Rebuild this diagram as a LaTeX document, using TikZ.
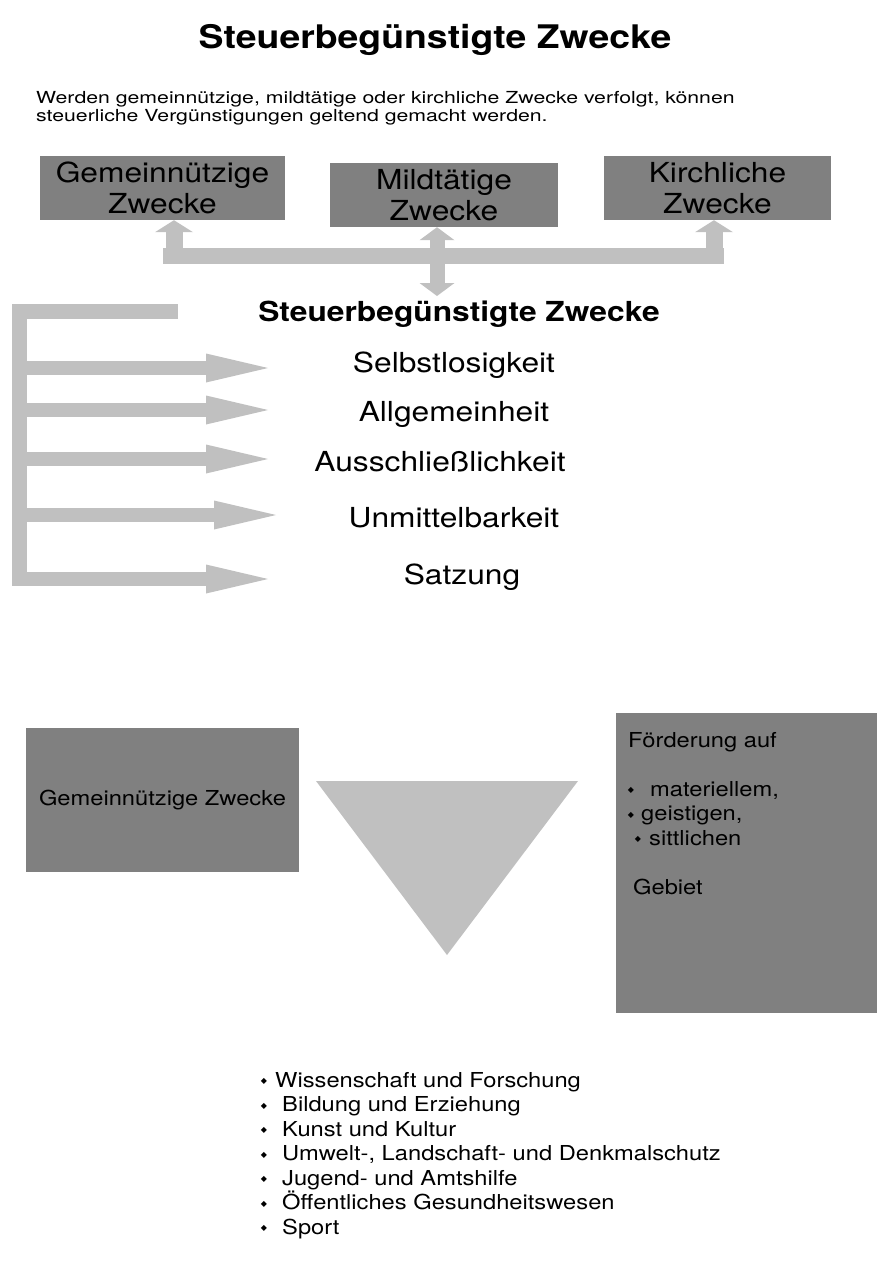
\documentclass[tikz,border=0pt]{standalone}
\usepackage{fontspec}
\setmainfont[FakeStretch=1.15]{TeX Gyre Heros}
\newfontfamily\introfont[FakeStretch=1.28]{TeX Gyre Heros}
\newfontfamily\symfont{DejaVu Sans}
\usetikzlibrary{arrows.meta,positioning}
\definecolor{boxgray}{HTML}{808080}
\definecolor{arrowgray}{HTML}{C0C0C0}
\newcommand{\dia}{{\symfont\fontsize{8}{8}\selectfont ◆}}

\tikzset{
  zweckbox/.style={fill=boxgray, align=center, font=\fontsize{27.6}{31}\selectfont},
  darkbox/.style={fill=boxgray},
  biglabel/.style={font=\fontsize{27.6}{31}\selectfont, anchor=base},
  smalltext/.style={font=\fontsize{20.6}{24}\selectfont, anchor=base west},
  bullet/.style={anchor=center},
  bar/.style={draw=arrowgray, line width=16pt},
  uparrow/.style={draw=arrowgray, line width=17pt, -{Triangle[width=38pt,length=12pt,line width=0pt]}},
  dblarrow/.style={draw=arrowgray, line width=15pt, {Triangle[width=35pt,length=13pt,line width=0pt]}-{Triangle[width=35pt,length=13pt,line width=0pt]}},
  rightarrow/.style={draw=arrowgray, line width=14pt, -{Triangle[width=29pt,length=62pt,line width=0pt]}},
}

\begin{document}
\begin{tikzpicture}[x=1pt,y=-1pt, every node/.style={inner sep=0pt}]
  \useasboundingbox (0,0) rectangle (877,1264);

  % title and intro
  \node[font=\fontsize{32.5}{38}\selectfont\bfseries, anchor=base] (title) at (435,48) {Steuerbegünstigte Zwecke};
  \node[font=\introfont\fontsize{16.6}{18}\selectfont, anchor=north west, align=left] (intro) at (36,91)
    {Werden gemeinnützige, mildtätige oder kirchliche Zwecke verfolgt, können\\steuerliche Vergünstigungen geltend gemacht werden.};

  % three purposes
  \node[zweckbox, minimum width=245pt, minimum height=64pt] (gemein) at (162.5,188) {Gemeinnützige\\Zwecke};
  \node[zweckbox, minimum width=228pt, minimum height=64pt] (mild) at (444,195) {Mildtätige\\Zwecke};
  \node[zweckbox, minimum width=227pt, minimum height=64pt] (kirch) at (717.5,188) {Kirchliche\\Zwecke};

  \node[font=\fontsize{27.6}{31}\selectfont\bfseries, anchor=base] (steuer) at (459,321) {Steuerbegünstigte Zwecke};

  % connecting bar
  \coordinate (barL) at (163,256);
  \coordinate (barR) at (724,256);
  \draw[bar] (barL) -- (barR);
  \draw[uparrow] (174,256) -- (gemein.south -| 174,0);
  \draw[uparrow] (714,256) -- (kirch.south -| 714,0);
  \draw[dblarrow] (mild.south -| 437,0) -- (437,296);

  % criteria
  \node[biglabel] (selbst) at (454,372) {Selbstlosigkeit};
  \node[biglabel] (allg) at (454,421) {Allgemeinheit};
  \node[biglabel] (aussch) at (440,471) {Ausschließlichkeit};
  \node[biglabel] (unmit) at (454,527) {Unmittelbarkeit};
  \node[biglabel] (satz) at (462,584) {Satzung};

  \coordinate (brTop) at (178,311.5);
  \coordinate (brCorner) at (19,311.5);
  \coordinate (brBottom) at (19,586);
  \draw[draw=arrowgray, line width=15pt] (brTop) -- (brCorner) -- (brBottom);
  \foreach \yy/\tip in {368/268, 410/268, 459/268, 515/276, 579/268}
    \draw[rightarrow] (19,\yy) -- (\tip,\yy);

  % lower part
  \node[darkbox, minimum width=273pt, minimum height=144pt, font=\fontsize{20.6}{24}\selectfont] (gemein2) at (162.5,800) {Gemeinnützige Zwecke};
  \fill[arrowgray] (316,781) -- (578,781) -- (447,955) -- cycle;
  \node[darkbox, minimum width=261pt, minimum height=300pt] (foerderbox) at (746.5,863) {};

  \node[smalltext] (foerd) at (628,747) {Förderung auf};
  \node[bullet] at (631,790.5) {\dia};
  \node[smalltext] (mat) at (650,796) {materiellem,};
  \node[bullet] at (631,815) {\dia};
  \node[smalltext] (geist) at (641,820.5) {geistigen,};
  \node[bullet] at (638,839.5) {\dia};
  \node[smalltext] (sitt) at (649,845) {sittlichen};
  \node[smalltext] (gebiet) at (633,894) {Gebiet};

  % list of purposes
  \foreach \i/\xx/\txt in {1/275/Wissenschaft und Forschung, 2/282/Bildung und Erziehung,
      3/282/Kunst und Kultur, 4/282/{Umwelt-, Landschaft- und Denkmalschutz},
      5/282/Jugend- und Amtshilfe, 6/282/Öffentliches Gesundheitswesen, 7/282/Sport}
  {
    \node[bullet] at (264,{1081.5+(\i-1)*24.5}) {\dia};
    \node[smalltext] (item\i) at (\xx,{1087+(\i-1)*24.5}) {\txt};
  }
\end{tikzpicture}
\end{document}
